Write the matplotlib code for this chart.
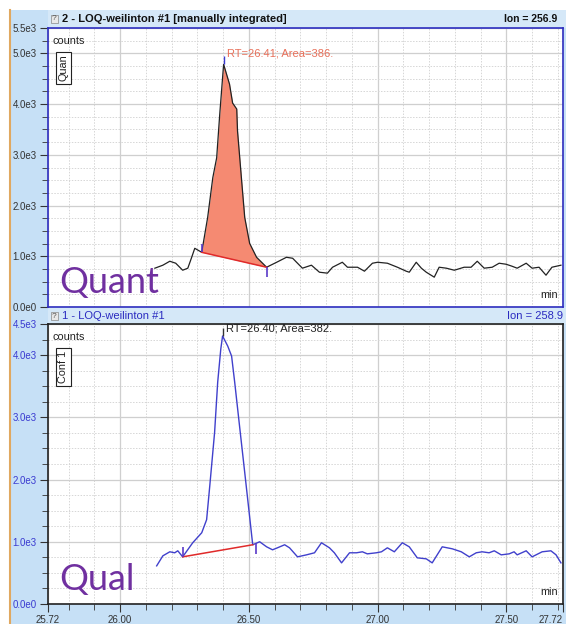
#Chromatogram: Quant (ion 256.9) and Qual (ion 258.9) traces
import numpy as np
from matplotlib import pyplot as plt
from matplotlib.patches import Rectangle
from matplotlib.lines import Line2D

#Quant trace (time in min, counts)
quant_time = [26.135, 26.166, 26.193, 26.216, 26.243, 26.263, 26.278, 26.290, 26.317,
              26.340, 26.360, 26.375, 26.387, 26.402, 26.425, 26.437, 26.453, 26.456,
              26.472, 26.484, 26.503, 26.530, 26.569, 26.608, 26.646, 26.670, 26.708,
              26.743, 26.774, 26.805, 26.825, 26.863, 26.883, 26.922, 26.949, 26.980,
              27.000, 27.038, 27.077, 27.111, 27.123, 27.150, 27.170, 27.189, 27.220,
              27.239, 27.267, 27.298, 27.336, 27.363, 27.387, 27.414, 27.445, 27.472,
              27.499, 27.522, 27.542, 27.577, 27.600, 27.627, 27.654, 27.677, 27.712]
quant_counts = [765, 824, 902, 863, 725, 765, 980, 1157, 1078,
                1765, 2549, 2941, 3804, 4784, 4392, 4020, 3902, 3471,
                2490, 1765, 1255, 980, 784, 882, 980, 961, 765,
                824, 686, 667, 784, 882, 784, 784, 706, 863,
                882, 863, 784, 706, 686, 882, 765, 686, 588,
                784, 765, 725, 784, 784, 902, 765, 784, 863,
                843, 804, 765, 863, 765, 784, 627, 784, 824]

#Qual trace
qual_time = [26.142, 26.166, 26.193, 26.212, 26.224, 26.243, 26.282, 26.317, 26.336,
             26.348, 26.367, 26.379, 26.391, 26.398, 26.418, 26.433, 26.445, 26.464,
             26.484, 26.503, 26.515, 26.542, 26.569, 26.592, 26.611, 26.639, 26.658,
             26.689, 26.724, 26.755, 26.782, 26.813, 26.832, 26.860, 26.891, 26.918,
             26.941, 26.960, 26.995, 27.015, 27.038, 27.065, 27.096, 27.123, 27.154,
             27.189, 27.212, 27.251, 27.290, 27.325, 27.356, 27.383, 27.406, 27.433,
             27.453, 27.480, 27.511, 27.530, 27.542, 27.577, 27.600, 27.639, 27.673,
             27.693, 27.712]
qual_counts = [613, 774, 839, 823, 855, 758, 984, 1145, 1355,
               1887, 2758, 3565, 4097, 4307, 4145, 3984, 3565, 2855,
               2113, 1403, 952, 1000, 919, 871, 903, 952, 903,
               758, 790, 823, 984, 903, 823, 661, 823, 823,
               839, 806, 823, 839, 903, 839, 984, 919, 742,
               726, 661, 919, 887, 839, 758, 823, 839, 823,
               855, 790, 806, 839, 790, 855, 758, 839, 855,
               790, 661]

#Integration start / peak / end indices into the traces
quant_marks = [8, 13, 22]
qual_marks = [5, 13, 20]

x_ticks = [25.72, 26.00, 26.50, 27.00, 27.50, 27.72]
x_labels = ["25.72", "26.00", "26.50", "27.00", "27.50", "27.72"]
quant_yticks = [0, 1000, 2000, 3000, 4000, 5000, 5500]
quant_ylabels = ["0.0e0", "1.0e3", "2.0e3", "3.0e3", "4.0e3", "5.0e3", "5.5e3"]
qual_yticks = [0, 1000, 2000, 3000, 4000, 4500]
qual_ylabels = ["0.0e0", "1.0e3", "2.0e3", "3.0e3", "4.0e3", "4.5e3"]

W, H = 566, 624
plt.rcParams['font.family'] = ['Liberation Sans', 'DejaVu Sans']
fig = plt.figure(figsize=(W / 100, H / 100), dpi=100)

strip = '#c6e0f6'
bar = '#d5e8f8'
fig.patches.append(Rectangle((10 / W, 0), 1, 1 - 10 / H, transform=fig.transFigure,
                             facecolor=strip, edgecolor='none', zorder=-2))
fig.patches.append(Rectangle((48 / W, 1 - 28 / H), 1, 18 / H, transform=fig.transFigure,
                             facecolor=bar, edgecolor='none', zorder=-1))
fig.patches.append(Rectangle((48 / W, 1 - 324 / H), 1, 17 / H, transform=fig.transFigure,
                             facecolor=bar, edgecolor='none', zorder=-1))
fig.lines.append(Line2D([10 / W, 10 / W], [0, 1 - 10 / H], transform=fig.transFigure,
                        color='#e0a860', lw=1.5, zorder=-1))

ax1 = fig.add_axes([48 / W, 1 - 307 / H, 515 / W, 279 / H])
ax2 = fig.add_axes([48 / W, 1 - 604 / H, 515 / W, 280 / H])


def style_axis(ax, yticks, ylabels, ymax, spine_color, label_color):
    ax.set_facecolor('white')
    ax.set_xlim(25.72, 27.72)
    ax.set_ylim(0, ymax)
    ax.set_yticks(yticks)
    ax.set_yticklabels(ylabels)
    ax.set_yticks(np.arange(0, ymax, 250), minor=True)
    ax.set_xticks(x_ticks)
    ax.set_xticks(np.arange(25.8, 27.72, 0.1), minor=True)
    ax.tick_params(axis='y', which='major', length=6, labelsize=7, colors='#333333',
                   labelcolor=label_color, pad=2)
    ax.tick_params(axis='y', which='minor', length=4, colors='#333333')
    ax.grid(which='major', color='#cfcfcf', lw=0.9)
    ax.grid(which='minor', color='#d6d6d6', lw=0.7, linestyle=(0, (1.5, 1.5)))
    ax.set_axisbelow(True)
    for s in ax.spines.values():
        s.set_color(spine_color)
        s.set_linewidth(1.2)


style_axis(ax1, quant_yticks, quant_ylabels, 5500, '#2e2ebf', '#333333')
style_axis(ax2, qual_yticks, qual_ylabels, 4500, '#222222', '#3a3ad0')
ax1.tick_params(axis='x', which='both', bottom=False, labelbottom=False)
ax2.tick_params(axis='x', which='major', length=6, labelsize=7, colors='#333333', pad=2)
ax2.tick_params(axis='x', which='minor', length=4, colors='#333333')
ax2.set_xticklabels(x_labels)
ax2.get_xticklabels()[-1].set_horizontalalignment('right')

#Quant panel
qt = np.array(quant_time)
qc = np.array(quant_counts)
s, p, e = quant_marks
base = np.interp(qt[s:e + 1], [qt[s], qt[e]], [qc[s], qc[e]])
ax1.fill_between(qt[s:e + 1], base, qc[s:e + 1], color='#f58a72', lw=0)
ax1.plot(qt, qc, color='#222222', lw=0.9)
ax1.plot([qt[s], qt[e]], [qc[s], qc[e]], color='#e02a2a', lw=1.1)
ax1.vlines([qt[s]], qc[s], qc[s] + 160, color='#5a3ac8', lw=1.2)
ax1.vlines([qt[e]], qc[e] - 200, qc[e], color='#5a3ac8', lw=1.2)
ax1.vlines([qt[p]], qc[p], qc[p] + 160, color='#3a3ad0', lw=1)
ax1.text(qt[p] + 0.015, qc[p] + 110, "RT=26.41; Area=386.", color='#e8705a',
         fontsize=8, va='bottom', ha='left')

#Qual panel
lt = np.array(qual_time)
lc = np.array(qual_counts)
s, p, e = qual_marks
ax2.plot(lt, lc, color='#4040cc', lw=1)
ax2.plot([lt[s], lt[e]], [lc[s], lc[e]], color='#e02a2a', lw=1.1)
ax2.vlines([lt[s]], lc[s], lc[s] + 160, color='#5a3ac8', lw=1.2)
ax2.vlines([lt[e] + 0.012], lc[e] - 150, lc[e] + 30, color='#5a3ac8', lw=1.2)
ax2.vlines([lt[p]], lc[p], lc[p] + 130, color='#333333', lw=1)
ax2.text(lt[p] + 0.015, lc[p] + 40, "RT=26.40; Area=382.", color='#222222',
         fontsize=8, va='bottom', ha='left')

#Labels inside the panels
for ax, tag, big in [(ax1, "Quan", "Quant"), (ax2, "Conf 1", "Qual")]:
    ax.text(0.008, 0.97, "counts", transform=ax.transAxes, fontsize=7.8,
            color='#222222', va='top', ha='left')
    ax.text(0.02, 0.905, tag, transform=ax.transAxes, fontsize=7.8, rotation=90,
            va='top', ha='left', color='#222222',
            bbox=dict(boxstyle='square,pad=0.25', facecolor='white', edgecolor='#222222', lw=0.8))
    ax.text(0.022, 0.05, big, transform=ax.transAxes, fontsize=26,
            family=['Lato', 'DejaVu Sans'], color='#7030a0', va='baseline', ha='left')
    ax.text(0.99, 0.025, "min", transform=ax.transAxes, fontsize=7.8,
            color='#222222', va='bottom', ha='right')

#Title bars
fig.text(52 / W, 1 - 19 / H, "?", fontsize=6, color='#555555', va='center',
         bbox=dict(boxstyle='square,pad=0.1', facecolor='#e8e8e8', edgecolor='#888888', lw=0.5))
fig.text(62 / W, 1 - 19 / H, "2 - LOQ-weilinton #1 [manually integrated]", fontsize=8,
         fontweight='bold', color='#111111', va='center', ha='left')
fig.text(557 / W, 1 - 19 / H, "Ion = 256.9", fontsize=7.5, fontweight='bold',
         color='#111111', va='center', ha='right')
fig.text(52 / W, 1 - 316 / H, "?", fontsize=6, color='#555555', va='center',
         bbox=dict(boxstyle='square,pad=0.1', facecolor='#e8e8e8', edgecolor='#888888', lw=0.5))
fig.text(62 / W, 1 - 316 / H, "1 - LOQ-weilinton #1", fontsize=8,
         color='#2a2ac0', va='center', ha='left')
fig.text(563 / W, 1 - 316 / H, "Ion = 258.9", fontsize=8,
         color='#2a2ac0', va='center', ha='right')

fig.savefig("out.png", dpi=100)
